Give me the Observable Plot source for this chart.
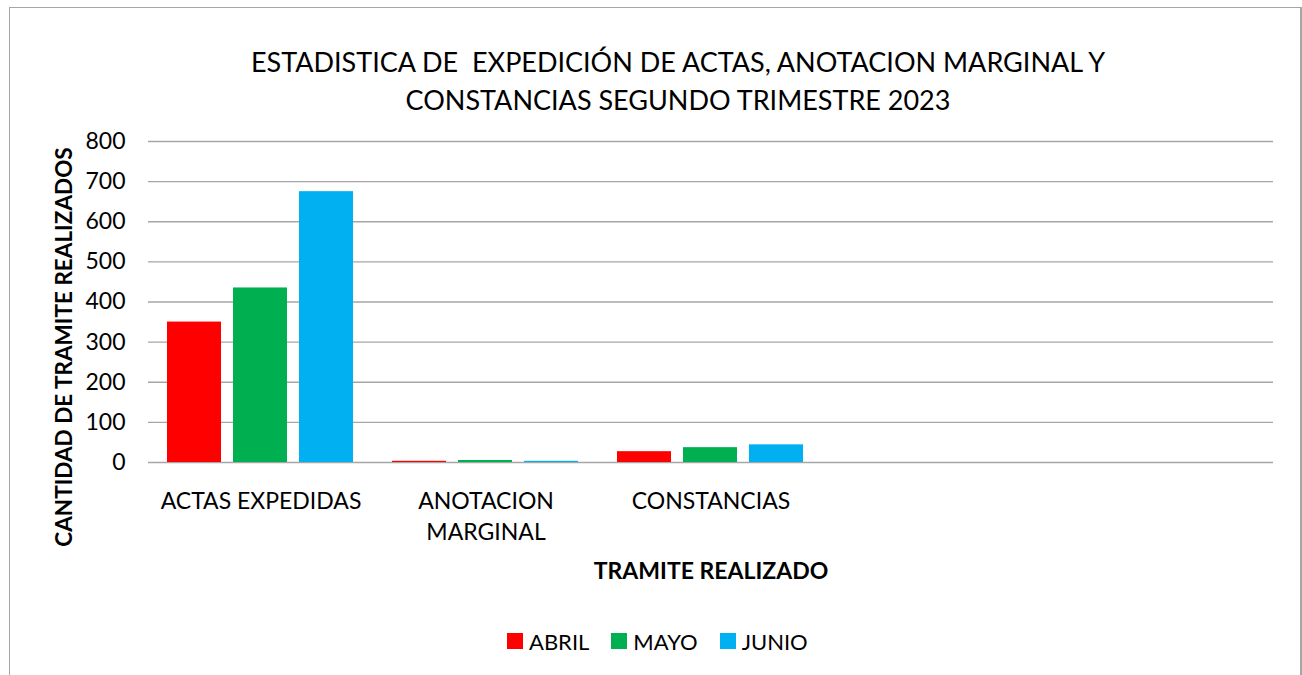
<!DOCTYPE html>
<html>
<head>
<meta charset="utf-8">
<script src="https://cdn.jsdelivr.net/npm/d3@7"></script>
<script src="https://cdn.jsdelivr.net/npm/@observablehq/plot@0.6"></script>
<style>
  html, body { margin: 0; padding: 0; background: #fff; }
  #chart { position: relative; width: 1302px; height: 675px; overflow: hidden; font-family: Lato, "Open Sans", sans-serif; color: #000; }
  #frame { position: absolute; left: 9px; top: 7px; width: 1300px; height: 700px; border: 1.5px solid #a6a6a6; box-sizing: border-box; border-right: none; border-bottom: none; }
  #frameR { position: absolute; left: 1300px; top: 7px; width: 2px; height: 700px; background: #a6a6a6; }
  #title { position: absolute; left: 0; top: 43px; width: 1356px; text-align: center; font-size: 27px; line-height: 38px; white-space: pre; }
  #plot { position: absolute; left: 0; top: 120px; }
  #ylabel { position: absolute; left: 63px; top: 347px; transform: translate(-50%, -50%) rotate(-90deg); font-weight: bold; font-size: 22.5px; white-space: nowrap; }
  #xlabel { position: absolute; left: 0; width: 1422px; top: 555px; line-height: 30px; text-align: center; font-weight: bold; font-size: 23px; }
  #legend { position: absolute; left: 507px; top: 626px; height: 30px; display: flex; align-items: center; font-size: 22px; }
  .item { display: flex; align-items: center; margin-right: 22px; }
  .sw { width: 16px; height: 16px; margin-right: 6px; }
</style>
</head>
<body>
<div id="chart">
  <div id="frame"></div>
  <div id="frameR"></div>
  <div id="title"></div>
  <div id="plot"></div>
  <div id="ylabel"></div>
  <div id="xlabel"></div>
  <div id="legend"></div>
</div>
<script>
// ---- Data ----
const titleLines = ["ESTADISTICA DE  EXPEDICIÓN DE ACTAS, ANOTACION MARGINAL Y", "CONSTANCIAS SEGUNDO TRIMESTRE 2023"];
const categories = ["ACTAS EXPEDIDAS", "ANOTACION\nMARGINAL", "CONSTANCIAS"];
const emptySlots = ["", " "];
const months = ["ABRIL", "MAYO", "JUNIO"];
const colors = ["#FF0000", "#00B050", "#00B0F0"];
const abril = [350, 3, 27];
const mayo = [435, 5, 37];
const junio = [675, 3, 44];
const yTicks = [0, 100, 200, 300, 400, 500, 600, 700, 800];
const yTitle = "CANTIDAD DE TRAMITE REALIZADOS";
const xTitle = "TRAMITE REALIZADO";

// ---- Build tables ----
const series = [abril, mayo, junio];
const slots = [...categories, ...emptySlots];
const rows = [];
categories.forEach((c, i) => months.forEach((m, j) => rows.push({cat: c, month: m, value: series[j][i]})));
const grid = slots.flatMap(s => yTicks.map(t => ({slot: s, y: t})));

document.getElementById("title").textContent = titleLines.join("\n");
document.getElementById("ylabel").textContent = yTitle;
document.getElementById("xlabel").textContent = xTitle;

const legend = document.getElementById("legend");
months.forEach((m, j) => {
  const it = document.createElement("div");
  it.className = "item";
  const sw = document.createElement("div");
  sw.className = "sw";
  sw.style.background = colors[j];
  const t = document.createElement("span");
  t.textContent = m;
  it.appendChild(sw); it.appendChild(t);
  legend.appendChild(it);
});

const chart = Plot.plot({
  width: 1302,
  height: 480,
  marginLeft: 148,
  marginRight: 29,
  marginTop: 21,
  marginBottom: 138,
  style: {fontFamily: "Lato, 'Open Sans', sans-serif", fontSize: "23px", color: "#000", background: "transparent", overflow: "visible"},
  fx: {domain: slots, paddingInner: 0, paddingOuter: 0, axis: null, label: null},
  x: {domain: months, paddingInner: 0.177, paddingOuter: 0.29, axis: null, label: null},
  y: {domain: [0, 800], label: null},
  color: {domain: months, range: colors},
  marks: [
    Plot.ruleY(grid, {fx: "slot", y: "y", stroke: "#a6a6a6", strokeWidth: 1.3, strokeOpacity: 1}),
    Plot.barY(rows, {fx: "cat", x: "month", y: "value", fill: "month"}),
    Plot.axisY({ticks: yTicks, tickSize: 0, tickPadding: 23, fontSize: 23, label: null}),
    Plot.ruleX(categories.slice(0, 1), {fx: d => d, frameAnchor: "left", y1: 0, y2: 800, stroke: "#a6a6a6", strokeWidth: 1.3}),
    Plot.text(categories, {fx: d => d, text: d => d, frameAnchor: "bottom", lineAnchor: "top", dy: 24, lineHeight: 1.35, fontSize: 23})
  ]
});
document.getElementById("plot").appendChild(chart);
</script>
</body>
</html>
